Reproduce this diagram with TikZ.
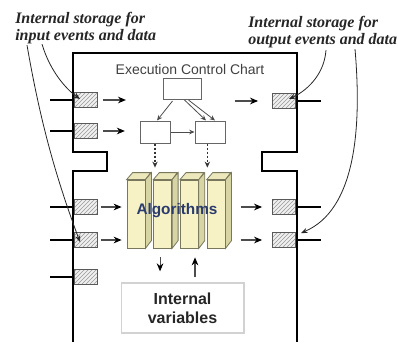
\documentclass[tikz,border=0pt]{standalone}
\usepackage{fontspec}
\setmainfont{Liberation Sans}
\newfontfamily\notefont{Liberation Serif}
\usepackage{xcolor}
\usetikzlibrary{arrows.meta, positioning, calc, patterns}
\definecolor{algfront}{HTML}{F6F2C6}
\definecolor{algside}{HTML}{D8D5A4}
\definecolor{algtop}{HTML}{ECE8BC}
\definecolor{algedge}{HTML}{7A785C}
\definecolor{algtext}{HTML}{2B3B6E}
\tikzset{
  frame/.style={line width=2.1pt, black},
  port/.style={rectangle, draw=black!65, line width=0.9pt, preaction={fill=gray!12},
               pattern=north east lines, pattern color=gray!80,
               minimum width=17pt, minimum height=11pt, inner sep=0pt},
  wire/.style={line width=1.9pt, black},
  flow/.style={-{Stealth[length=6pt,width=5pt,black]}, gray!60!black, line width=0.8pt},
  eccbox/.style={rectangle, draw=black!60, line width=0.75pt, fill=white, inner sep=0pt},
  eccarrow/.style={-{Stealth[length=4pt,width=3.5pt]}, black!70, line width=0.6pt},
  dotflow/.style={-{Stealth[length=4.5pt,width=4pt]}, black!80, line width=1pt, dash pattern=on 1.5pt off 1.5pt},
  algbar/.style={rectangle, draw=algedge, line width=0.6pt, fill=algfront,
                 minimum width=13.5pt, minimum height=51pt, inner sep=0pt},
  varbox/.style={rectangle, draw=gray!35, line width=1pt, minimum width=92pt, minimum height=37.5pt,
                 align=center, text=black!85, font=\fontsize{12}{14.5}\selectfont\bfseries},
  note/.style={font=\notefont\fontsize{12}{12.75}\selectfont\bfseries\itshape, text=black!85,
               align=left, inner sep=0pt, anchor=west},
  notearrow/.style={-{Stealth[length=5pt,width=4pt]}, black!85, line width=0.6pt},
}
\begin{document}
\begin{tikzpicture}[x=0.75pt, y=-0.75pt]
  \useasboundingbox (0,0) rectangle (398,342);

  % block outline
  \draw[frame] (73,342) -- (73,171) -- (107,171) -- (107,152) -- (73,152) -- (73,53)
    -- (297,53) -- (297,152) -- (262,152) -- (262,171) -- (297,171) -- (297,342);

  % ports
  \foreach \n/\y in {1/100, 2/131, 3/207, 4/240, 5/277} {
    \node[port] (in\n) at (86,\y) {};
    \draw[wire] (in\n.west) -- ++(-24,0);
  }
  \foreach \n/\y in {1/101, 2/207, 3/240} {
    \node[port] (out\n) at (284,\y) {};
    \draw[wire] (out\n.east) -- ++(25,0);
  }

  % execution control chart
  \node[font=\fontsize{10.5}{12}\selectfont, text=black!75] (ecctitle) at (190,69) {Execution Control Chart};
  \node[eccbox, minimum width=28.8pt, minimum height=15.75pt] (topbox) at (182.5,89) {};
  \node[eccbox, minimum width=22.5pt, minimum height=16.5pt] (leftbox) at (155,132) {};
  \node[eccbox, minimum width=22.5pt, minimum height=16.5pt, right=18pt of leftbox] (rightbox) {};
  \draw[eccarrow] ($(topbox.south)+(-10,1)$) -- ($(leftbox.north)+(2,0)$);
  \draw[eccarrow] ($(topbox.south)+(2,0)$) -- ($(rightbox.north)+(-4,0)$);
  \draw[eccarrow] ($(topbox.south)+(6,0)$) -- ($(rightbox.north)+(5,0)$);
  \draw[eccarrow] (leftbox.east) -- (rightbox.west);

  % algorithms
  \foreach \i in {1,...,4} {
    \node[algbar] (alg\i) at ({136+26.7*(\i-1)},214) {};
    \filldraw[fill=algtop, draw=algedge, line width=0.6pt]
      (alg\i.north west) -- ++(6,-7) -- ++(18,0) -- (alg\i.north east) -- cycle;
    \filldraw[fill=algside, draw=algedge, line width=0.6pt]
      (alg\i.north east) -- ++(6,-7) -- ++(0,68) -- (alg\i.south east) -- cycle;
  }
  \node[font=\fontsize{11.5}{13}\selectfont\bfseries, text=algtext] (algtitle) at (177,211) {Algorithms};

  \draw[dotflow, shorten >=9pt] (leftbox.south) -- (leftbox.south |- alg2.north);
  \draw[dotflow, shorten >=9pt] ([xshift=-2pt]rightbox.south) -- ([xshift=-2pt]rightbox.south |- alg4.north);

  % internal variables
  \node[varbox] (vars) at (182.5,308) {Internal\\variables};
  \draw[flow, shorten <=6.75pt, shorten >=8.25pt] ([xshift=-2pt]alg2.south) -- ([xshift=-2pt]alg2.south |- vars.north);
  \draw[flow, shorten <=3.75pt, shorten >=6.75pt] ([xshift=4.2pt]alg3.south |- vars.north) -- ([xshift=4.2pt]alg3.south);

  % event and data flows
  \draw[flow] ([xshift=3.75pt]in1.east) -- ++(23,0);
  \draw[flow, shorten <=3.75pt, shorten >=11pt] (in2.east) -- (leftbox.west |- in2);
  \draw[flow, shorten <=2.25pt, shorten >=3.75pt] (in3.east) -- (alg1.west |- in3);
  \draw[flow, shorten <=2.25pt, shorten >=3.75pt] (in4.east) -- (alg1.west |- in4);
  \draw[flow, shorten <=24.75pt, shorten >=10.5pt] (topbox.east |- out1) -- (out1.west);
  \draw[flow, shorten <=11.25pt, shorten >=7.5pt] (alg4.east |- out2) -- (out2.west);
  \draw[flow, shorten <=11.25pt, shorten >=7.5pt] (alg4.east |- out3) -- (out3.west);

  % notes
  \node[note] (notein) at (15,28) {Internal storage for\\input events and data};
  \node[note] (noteout) at (248,32) {Internal storage for\\output events and data};
  \draw[notearrow] ($(notein.south west)+(27,0)$) .. controls +(8,27) and +(-14,-10) .. ($(in1)+(-6,-1)$);
  \draw[notearrow] ($(notein.south west)+(12,1)$) .. controls (40,120) and (55,175) .. ($(in4)+(-6,2)$);
  \draw[notearrow] ($(noteout.south west)+(78,2)$) .. controls +(-2,27) and +(15,-7) .. ($(out1)+(5,-2)$);
  \draw[notearrow] ($(noteout.south west)+(107,1)$) .. controls (362,130) and (355,210) .. ($(out3.north east)+(5,1)$);
\end{tikzpicture}
\end{document}
